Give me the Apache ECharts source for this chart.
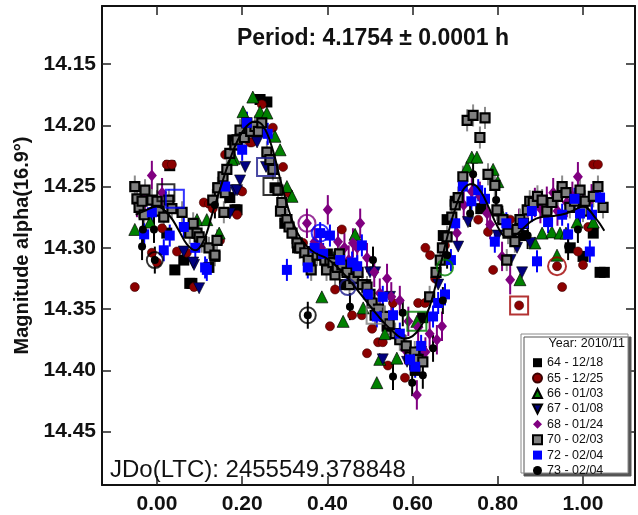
<!DOCTYPE html>
<html><head><meta charset="utf-8">
<script src="https://cdn.jsdelivr.net/npm/echarts@6/dist/echarts.min.js"></script>
<style>html,body{margin:0;padding:0;background:#fff}#c{width:638px;height:515px}</style>
</head><body><div id="c"></div>
<script>
// ---------- data ----------
const xTicks = [0.00, 0.20, 0.40, 0.60, 0.80, 1.00];
const yTicks = [14.15, 14.20, 14.25, 14.30, 14.35, 14.40, 14.45];
const seriesNames = ['64 - 12/18','65 - 12/25','66 - 01/03','67 - 01/08','68 - 01/24','70 - 02/03','72 - 02/04','73 - 02/04'];
const errSize = [0, 0, 0, 0, 0.012, 0.009, 0.009, 0.011];

const s64 = [[0.023,14.288],[0.042,14.318],[0.063,14.31],[0.077,14.329],[0.082,14.329],[0.122,14.316],[0.136,14.307],[0.171,14.259],[0.183,14.269],[0.188,14.269],[0.242,14.179],[0.258,14.181],[0.178,14.212],[0.277,14.251],[0.143,14.251],[0.03,14.233],[0.30,14.28],[0.33,14.30],[0.40,14.305],[0.42,14.31],[0.49,14.33],[0.54,14.364],[0.606,14.40],[0.624,14.357],[0.681,14.277],[0.672,14.29],[0.70,14.262],[0.76,14.268],[0.80,14.27],[0.86,14.29],[1.024,14.288],[1.04,14.32],[1.05,14.32],[1.0,14.307],[0.97,14.30],[0.44,14.33],[0.36,14.31]];
const s65 = [[-0.052,14.332],[-0.012,14.304],[0.0,14.312],[0.012,14.284],[0.023,14.232],[0.035,14.232],[0.047,14.303],[0.07,14.304],[0.087,14.332],[0.11,14.263],[0.122,14.264],[0.131,14.268],[0.16,14.224],[0.188,14.273],[0.195,14.253],[0.2,14.254],[0.218,14.214],[0.223,14.214],[0.246,14.183],[0.272,14.202],[0.296,14.234],[0.308,14.255],[0.343,14.296],[0.148,14.294],[0.434,14.285],[0.418,14.334],[0.406,14.364],[0.458,14.355],[0.481,14.355],[0.505,14.366],[0.519,14.377],[0.53,14.377],[0.493,14.386],[0.542,14.396],[0.582,14.406],[0.613,14.345],[0.629,14.345],[0.641,14.306],[0.653,14.325],[0.554,14.345],[0.676,14.298],[0.754,14.277],[0.777,14.287],[0.829,14.277],[0.836,14.285],[0.789,14.318],[0.951,14.332],[0.85,14.347],[0.939,14.315],[1.024,14.232],[1.035,14.232],[0.988,14.303],[1.0,14.314],[1.012,14.283],[0.63,14.30]];
const s66 = [[-0.052,14.285],[-0.016,14.279],[0.094,14.277],[0.117,14.277],[0.146,14.288],[0.181,14.227],[0.176,14.228],[0.225,14.177],[0.202,14.189],[0.242,14.189],[0.258,14.19],[0.277,14.209],[0.289,14.22],[0.305,14.25],[0.317,14.258],[0.37,14.302],[0.387,14.34],[0.437,14.36],[0.465,14.289],[0.484,14.349],[0.535,14.37],[0.523,14.391],[0.563,14.39],[0.516,14.41],[0.61,14.36],[0.728,14.234],[0.739,14.226],[0.751,14.226],[0.789,14.236],[0.8,14.246],[0.812,14.275],[0.852,14.326],[0.887,14.296],[0.904,14.288],[0.927,14.287],[0.946,14.288],[0.939,14.306],[0.986,14.279],[1.024,14.279],[0.96,14.288],[0.42,14.305]];
const s67 = [[0.063,14.303],[0.087,14.314],[0.099,14.333],[0.085,14.312],[0.171,14.272],[0.183,14.253],[0.188,14.253],[0.195,14.245],[0.207,14.234],[0.235,14.214],[0.256,14.234],[0.5,14.32],[0.512,14.32],[0.547,14.34],[0.53,14.391],[0.587,14.393],[0.707,14.299],[0.73,14.279],[0.857,14.32],[0.876,14.296],[0.845,14.30],[0.62,14.385],[0.41,14.31],[0.45,14.32],[0.80,14.29],[0.83,14.31],[0.66,14.33]];
const s68 = [[-0.047,14.263],[-0.028,14.258],[-0.012,14.241],[0.012,14.255],[0.352,14.28],[0.37,14.295],[0.385,14.30],[0.401,14.269],[0.477,14.28],[0.46,14.296],[0.425,14.295],[0.44,14.30],[0.45,14.31],[0.47,14.30],[0.493,14.308],[0.51,14.32],[0.54,14.325],[0.523,14.337],[0.55,14.34],[0.57,14.343],[0.59,14.36],[0.582,14.383],[0.61,14.42],[0.613,14.365],[0.63,14.385],[0.64,14.37],[0.657,14.375],[0.669,14.364],[0.704,14.288],[0.72,14.265],[0.739,14.254],[0.758,14.258],[0.775,14.272],[0.782,14.281],[0.81,14.307],[0.829,14.326],[0.85,14.28],[0.87,14.27],[0.887,14.263],[0.90,14.268],[0.915,14.262],[0.93,14.255],[0.94,14.27],[0.962,14.263],[0.975,14.258],[0.988,14.242],[1.0,14.265],[1.02,14.26]];
const s70 = [[-0.052,14.25],[-0.047,14.26],[-0.042,14.267],[-0.035,14.262],[-0.03,14.273],[-0.028,14.253],[-0.012,14.261],[0.0,14.262],[0.005,14.27],[0.016,14.275],[0.028,14.261],[0.035,14.268],[0.059,14.271],[0.077,14.288],[0.085,14.28],[0.094,14.288],[0.099,14.291],[0.105,14.295],[0.122,14.30],[0.136,14.306],[0.141,14.294],[0.131,14.261],[0.143,14.251],[0.155,14.242],[0.157,14.271],[0.16,14.255],[0.164,14.236],[0.171,14.223],[0.183,14.216],[0.188,14.212],[0.195,14.204],[0.205,14.21],[0.211,14.198],[0.22,14.205],[0.23,14.201],[0.238,14.205],[0.246,14.198],[0.258,14.222],[0.265,14.228],[0.272,14.236],[0.284,14.253],[0.29,14.27],[0.293,14.263],[0.305,14.277],[0.31,14.283],[0.317,14.288],[0.329,14.296],[0.335,14.30],[0.347,14.304],[0.355,14.31],[0.362,14.318],[0.366,14.303],[0.376,14.306],[0.387,14.306],[0.394,14.31],[0.398,14.318],[0.406,14.31],[0.413,14.312],[0.418,14.322],[0.423,14.316],[0.428,14.305],[0.434,14.314],[0.446,14.32],[0.452,14.33],[0.462,14.325],[0.472,14.32],[0.482,14.33],[0.493,14.332],[0.50,14.338],[0.505,14.345],[0.512,14.355],[0.52,14.35],[0.535,14.356],[0.545,14.362],[0.559,14.37],[0.57,14.375],[0.585,14.38],[0.594,14.389],[0.605,14.385],[0.613,14.391],[0.624,14.393],[0.64,14.34],[0.655,14.32],[0.665,14.31],[0.67,14.30],[0.681,14.291],[0.692,14.275],[0.70,14.265],[0.707,14.259],[0.718,14.242],[0.728,14.196],[0.742,14.192],[0.77,14.194],[0.758,14.21],[0.777,14.24],[0.793,14.249],[0.798,14.269],[0.812,14.277],[0.824,14.288],[0.84,14.295],[0.821,14.31],[0.845,14.285],[0.852,14.277],[0.86,14.28],[0.869,14.269],[0.875,14.262],[0.883,14.263],[0.893,14.258],[0.904,14.261],[0.915,14.27],[0.927,14.263],[0.94,14.258],[0.951,14.25],[0.96,14.255],[0.969,14.267],[0.98,14.262],[0.993,14.253],[1.0,14.27],[1.005,14.262],[1.024,14.258],[1.035,14.25],[1.047,14.267]];
const s72 = [[-0.03,14.289],[-0.012,14.271],[0.016,14.302],[0.03,14.29],[0.063,14.283],[0.09,14.30],[0.113,14.316],[0.117,14.318],[0.16,14.25],[0.20,14.22],[0.211,14.198],[0.26,14.207],[0.305,14.318],[0.354,14.316],[0.37,14.30],[0.383,14.288],[0.39,14.305],[0.406,14.29],[0.43,14.31],[0.47,14.315],[0.481,14.298],[0.458,14.312],[0.495,14.338],[0.516,14.356],[0.53,14.34],[0.554,14.355],[0.57,14.37],[0.594,14.391],[0.606,14.397],[0.62,14.38],[0.648,14.356],[0.66,14.345],[0.676,14.338],[0.69,14.31],[0.70,14.28],[0.718,14.25],[0.738,14.262],[0.754,14.253],[0.77,14.26],[0.793,14.295],[0.82,14.28],[0.86,14.28],[0.88,14.27],[0.892,14.311],[0.918,14.279],[0.951,14.273],[0.965,14.289],[0.98,14.26],[0.993,14.272],[1.016,14.303],[1.021,14.273],[1.04,14.259]];
const s73 = [[-0.035,14.299],[-0.033,14.285],[-0.007,14.285],[-0.005,14.31],[0.136,14.265],[0.354,14.355],[0.453,14.348],[0.507,14.31],[0.554,14.405],[0.577,14.353],[0.599,14.41],[0.624,14.404],[0.648,14.382],[0.671,14.343],[0.681,14.306],[0.735,14.272],[0.742,14.24],[0.796,14.261],[0.87,14.29],[0.965,14.299],[0.988,14.285]];

// highlighted (ringed) points
const ringSq64 = [[0.021,14.255],[0.27,14.25]];
const ringSq72 = [[0.042,14.26]];
const ringSq67 = [[0.256,14.234]];
const ringSq70 = [[0.512,14.355]];
const ringSq66 = [[0.61,14.36]];
const ringSq65 = [[0.85,14.347]];
const ringCi73 = [[-0.005,14.31],[0.354,14.355]];
const ringCi68 = [[0.352,14.28]];
const ringCi72 = [[0.383,14.288]];
const ringCi67 = [[0.448,14.332]];
const ringCi66 = [[0.676,14.316]];
const ringCi65 = [[0.939,14.315]];

// Fourier fit curve
const fitX = [-0.05,-0.03,0.00,0.03,0.05,0.07,0.09,0.11,0.13,0.15,0.17,0.19,0.21,0.23,0.25,0.27,0.29,0.31,0.33,0.35,0.37,0.40,0.43,0.46,0.49,0.52,0.55,0.58,0.60,0.62,0.64,0.66,0.68,0.70,0.72,0.74,0.76,0.78,0.80,0.82,0.84,0.86,0.88,0.90,0.93,0.96,0.98,1.00,1.03,1.05];
const fitY = [14.273,14.270,14.266,14.274,14.285,14.297,14.302,14.294,14.272,14.250,14.229,14.212,14.201,14.197,14.201,14.218,14.245,14.270,14.288,14.298,14.304,14.309,14.318,14.330,14.343,14.356,14.367,14.374,14.372,14.364,14.348,14.322,14.293,14.268,14.252,14.248,14.254,14.268,14.283,14.291,14.290,14.284,14.278,14.275,14.274,14.272,14.269,14.266,14.276,14.286];

// ---------- styles ----------
const FONT = 'Liberation Sans';
const invTri = 'path://M0,0 L10,0 L5,10 Z';
const styles = [
  {symbol:'rect', size:11, color:'#000000', border:'#000000', bw:0, bar:'#000000'},
  {symbol:'circle', size:9, color:'#8b0000', border:'#3a0000', bw:0.6, bar:'#8b0000'},
  {symbol:'triangle', size:12, color:'#008000', border:'#000000', bw:0.7, bar:'#008000'},
  {symbol:invTri, size:11, color:'#000080', border:'#000000', bw:0.6, bar:'#000080'},
  {symbol:'diamond', size:[10,12], color:'#800080', border:'#800080', bw:0, bar:'#800080'},
  {symbol:'rect', size:9, color:'#808080', border:'#000000', bw:2.2, bar:'#8c8c8c'},
  {symbol:'rect', size:10, color:'#0000ff', border:'#0000ff', bw:0, bar:'#0000ff'},
  {symbol:'circle', size:8, color:'#000000', border:'#000000', bw:0, bar:'#000000'}
];
const allPts = [s64, s65, s66, s67, s68, s70, s72, s73];

const series = [];
allPts.forEach((pts, i) => {
  const st = styles[i];
  if (errSize[i] > 0) {
    series.push({
      type:'custom', name: seriesNames[i] + ' err', silent:true,
      data: pts.map(p => [p[0], p[1], errSize[i]]),
      encode:{x:0, y:1},
      renderItem: (params, api) => {
        const x = api.value(0), y = api.value(1), e = api.value(2);
        const a = api.coord([x, y - e]), b = api.coord([x, y + e]);
        return {type:'line', shape:{x1:a[0], y1:a[1], x2:b[0], y2:b[1]},
                style:{stroke: st.bar, lineWidth: 2}};
      },
      z: 2
    });
  }
  series.push({
    type:'scatter', name: seriesNames[i], data: pts,
    symbol: st.symbol, symbolSize: st.size,
    itemStyle:{color: st.color, borderColor: st.border, borderWidth: st.bw, opacity:1},
    z: 3
  });
});

function ring(data, shape, color, size) {
  series.push({type:'scatter', silent:true, data, symbol: shape, symbolSize: size,
    itemStyle:{color:'rgba(0,0,0,0)', borderColor: color, borderWidth: 2}, z: 4});
}
ring(ringSq64, 'rect', '#000000', 17);
ring(ringSq72, 'rect', '#0000ff', 18);
ring(ringSq67, 'rect', '#1a1a8c', 18);
ring(ringSq70, 'rect', '#808080', 17);
ring(ringSq66, 'rect', '#008000', 19);
ring(ringSq65, 'rect', '#a00000', 18);
ring(ringCi73, 'circle', '#000000', 16);
ring(ringCi68, 'circle', '#800080', 17);
ring(ringCi72, 'circle', '#0000ff', 17);
ring(ringCi67, 'circle', '#1a1a8c', 16);
ring(ringCi66, 'circle', '#008000', 16);
ring(ringCi65, 'circle', '#a00000', 18);

series.push({
  type:'line', name:'fit', data: fitX.map((x, i) => [x, fitY[i]]),
  showSymbol:false, smooth:0.4, silent:true,
  lineStyle:{color:'#000', width:2}, z: 5
});

const X_MIN = -0.129, X_MAX = 1.122, Y_MIN = 14.1027, Y_MAX = 14.4935;
const tickStyle = {show:true, inside:true, length:9, lineStyle:{color:'#222', width:1.5}};
const lineStyle = {show:true, onZero:false, lineStyle:{color:'#111', width:2}};

const chart = echarts.init(document.getElementById('c'), null, {renderer:'canvas'});
chart.setOption({
  animation:false,
  backgroundColor:'#ffffff',
  title:[
    {text:'Period: 4.1754 \u00b1 0.0001 h', left:368, textAlign:'center', top:22,
     textStyle:{fontFamily:FONT, fontSize:23, fontWeight:'bold', color:'#111'}},
    {text:'JDo(LTC): 2455549.378848', left:105, top:453,
     textStyle:{fontFamily:FONT, fontSize:24, fontWeight:'normal', color:'#111'}}
  ],
  grid:{left:102, right:3, top:6, bottom:30, containLabel:false},
  xAxis:[
    {type:'value', min:X_MIN, max:X_MAX, position:'bottom', axisLine:lineStyle,
     axisTick:Object.assign({customValues:xTicks}, tickStyle),
     axisLabel:{customValues:xTicks, formatter:v => v.toFixed(2), margin:9,
       fontFamily:FONT, fontSize:21, fontWeight:'bold', color:'#111'},
     splitLine:{show:false}},
    {type:'value', min:X_MIN, max:X_MAX, position:'top', axisLine:lineStyle,
     axisTick:Object.assign({customValues:xTicks}, tickStyle),
     axisLabel:{show:false}, splitLine:{show:false}}
  ],
  yAxis:[
    {type:'value', inverse:true, min:Y_MIN, max:Y_MAX, position:'left', axisLine:lineStyle,
     axisTick:Object.assign({customValues:yTicks}, tickStyle),
     axisLabel:{customValues:yTicks, formatter:v => v.toFixed(2), margin:6,
       fontFamily:FONT, fontSize:21, fontWeight:'bold', color:'#111'},
     splitLine:{show:false},
     name:'Magnitude alpha(16.9\u00b0)', nameLocation:'middle', nameRotate:90, nameGap:59,
     nameTextStyle:{fontFamily:FONT, fontSize:20, fontWeight:'bold', color:'#111'}},
    {type:'value', inverse:true, min:Y_MIN, max:Y_MAX, position:'right', axisLine:lineStyle,
     axisTick:Object.assign({customValues:yTicks}, tickStyle),
     axisLabel:{show:false}, splitLine:{show:false}}
  ],
  legend:{
    orient:'vertical', left:527, top:350, itemWidth:9, itemHeight:9, itemGap:0,
    selectedMode:false, z:10,
    textStyle:{fontFamily:FONT, fontSize:12.5, color:'#111', lineHeight:15.4},
    data: seriesNames.map((n, i) => ({name:n, icon: styles[i].symbol}))
  },
  graphic:[
    {type:'rect', z:8, shape:{x:521, y:334, width:107, height:139},
     style:{fill:'#ffffff', stroke:'#8a8a8a', lineWidth:1,
            shadowColor:'#555555', shadowOffsetX:3, shadowOffsetY:3, shadowBlur:0}},
    {type:'text', z:9, x:625, y:344,
     style:{text:'Year: 2010/11', fill:'#111', font:'12.5px "Liberation Sans"', textAlign:'right', textVerticalAlign:'middle'}}
  ],
  series: series
});
</script></body></html>
